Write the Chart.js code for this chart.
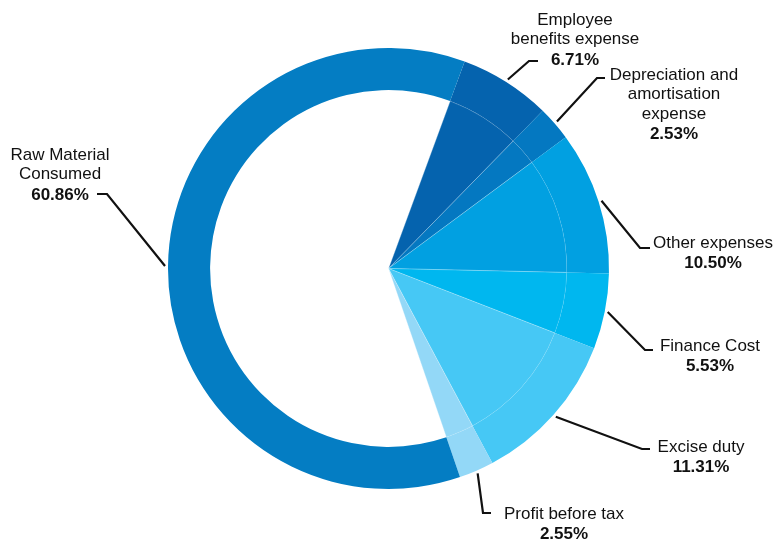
<!DOCTYPE html>
<html>
<head>
<meta charset="utf-8">
<script src="https://cdn.jsdelivr.net/npm/chart.js@4"></script>
<style>
  html, body { margin: 0; padding: 0; background: #fff; }
  #wrap { width: 777px; height: 544px; }
</style>
</head>
<body>
<div id="wrap"><canvas id="costChart" width="777" height="544"></canvas></div>
<script>
// Cost breakdown data (clockwise from Employee benefits)
const categories = ['Employee benefits expense', 'Depreciation and amortisation expense', 'Other expenses',
  'Finance Cost', 'Excise duty', 'Profit before tax', 'Raw Material Consumed'];
const shares = [6.71, 2.53, 10.50, 5.53, 11.31, 2.55, 60.86];
const nameLines = [
  ['Employee', 'benefits expense'],
  ['Depreciation and', 'amortisation', 'expense'],
  ['Other expenses'],
  ['Finance Cost'],
  ['Excise duty'],
  ['Profit before tax'],
  ['Raw Material', 'Consumed']
];
const sliceColors = ['#0563ae', '#0478c1', '#01a0e1', '#00b7ef', '#46c8f5', '#93d8f7', '#047dc3'];
// inner pie leaves the raw material slice empty (only the outer ring shows)
const innerColors = sliceColors.map((c, i) => i === 6 ? 'rgba(255,255,255,0)' : c);

// where each label goes: elbow of the leader line, end of the short tick, text centre, first baseline
const labelLayout = [
  { elbow: [529, 61], end: [538, 61], cx: 575, y: 20 },
  { elbow: [597, 78], end: [605, 78], cx: 674, y: 75 },
  { elbow: [640, 248], end: [650, 248], cx: 713, y: 243 },
  { elbow: [645, 350], end: [653, 350], cx: 710, y: 346 },
  { elbow: [642, 449], end: [650, 449], cx: 701, y: 447 },
  { elbow: [483, 513], end: [491, 513], cx: 564, y: 514 },
  { elbow: [107, 194], end: [97, 194], cx: 60, y: 155 }
];

// employee slice starts a little past 12 o'clock
const startRotation = 20.2;

const leaderLabels = {
  id: 'leaderLabels',
  afterDatasetsDraw(chart) {
    const ctx = chart.ctx;
    const meta = chart.getDatasetMeta(0);
    ctx.save();
    meta.data.forEach((arc, i) => {
      const mid = (arc.startAngle + arc.endAngle) / 2;
      const r = arc.outerRadius + 3;
      const sx = arc.x + Math.cos(mid) * r;
      const sy = arc.y + Math.sin(mid) * r;
      const lay = labelLayout[i];
      ctx.strokeStyle = '#111';
      ctx.lineWidth = 2.2;
      ctx.beginPath();
      ctx.moveTo(sx, sy);
      ctx.lineTo(lay.elbow[0], lay.elbow[1]);
      ctx.lineTo(lay.end[0], lay.end[1]);
      ctx.stroke();

      ctx.fillStyle = '#111';
      ctx.textAlign = 'center';
      ctx.textBaseline = 'middle';
      const lines = nameLines[i];
      ctx.font = '17px "Liberation Sans", Arial, sans-serif';
      lines.forEach((t, k) => ctx.fillText(t, lay.cx, lay.y + k * 19.5));
      ctx.font = 'bold 17px "Liberation Sans", Arial, sans-serif';
      ctx.fillText(shares[i].toFixed(2) + '%', lay.cx, lay.y + lines.length * 19.5 + 1);
    });
    ctx.restore();
  }
};

const ctx = document.getElementById('costChart').getContext('2d');
const costChart = new Chart(ctx, {
  type: 'pie',
  data: {
    labels: categories,
    datasets: [
      {
        data: shares,
        backgroundColor: sliceColors,
        borderWidth: 0,
        weight: 42
      },
      {
        data: shares,
        backgroundColor: innerColors,
        borderColor: 'rgba(255,255,255,0.3)',
        borderWidth: 0.7,
        weight: 178
      }
    ]
  },
  options: {
    responsive: false,
    animation: false,
    events: [],
    rotation: startRotation,
    layout: { padding: { top: 48, bottom: 55, left: 168, right: 168 } },
    plugins: {
      legend: { display: false },
      tooltip: { enabled: false }
    }
  },
  plugins: [leaderLabels]
});
</script>
</body>
</html>
